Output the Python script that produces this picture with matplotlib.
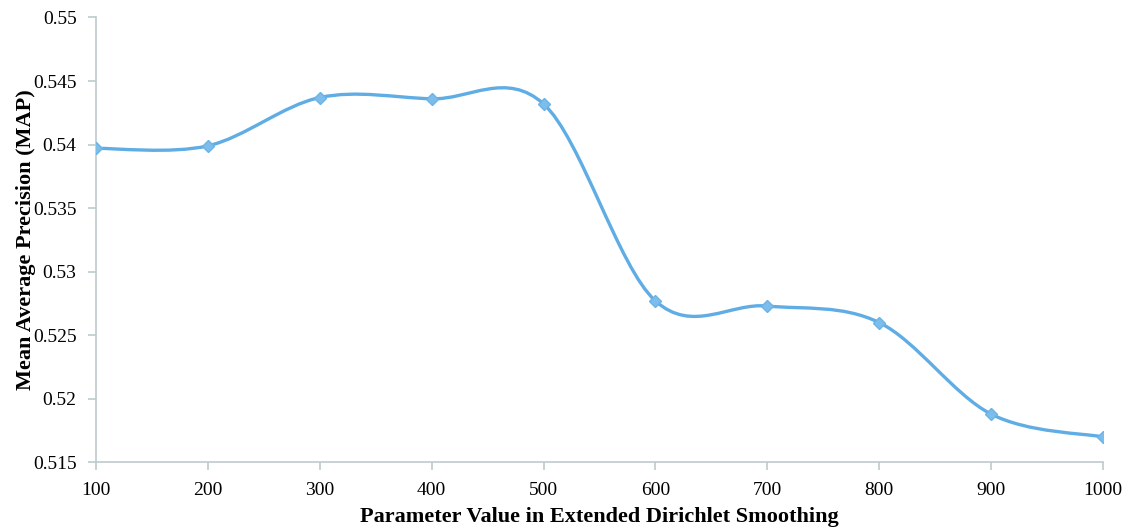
import numpy as np
import matplotlib.pyplot as plt
from matplotlib.path import Path
from matplotlib.patches import PathPatch

params = [100, 200, 300, 400, 500, 600, 700, 800, 900, 1000]
map_values = [0.5397, 0.5399, 0.5437, 0.5436, 0.5432, 0.5277, 0.5273, 0.5260, 0.5188, 0.5170]
y_ticks = [0.515, 0.52, 0.525, 0.53, 0.535, 0.54, 0.545, 0.55]
y_tick_labels = ["0.515", "0.52", "0.525", "0.53", "0.535", "0.54", "0.545", "0.55"]

line_color = "#5fade4"
spine_color = "#bfcacc"


def smooth_path(x, y):
    # Excel-style smoothed line: Catmull-Rom segments as cubic Bezier curves
    pts = np.column_stack([x, y]).astype(float)
    padded = np.vstack([pts[0], pts, pts[-1]])
    verts = [pts[0]]
    codes = [Path.MOVETO]
    for i in range(1, len(padded) - 2):
        p0, p1, p2, p3 = padded[i - 1], padded[i], padded[i + 1], padded[i + 2]
        c1 = p1 + (p2 - p0) / 6.0
        c2 = p2 - (p3 - p1) / 6.0
        verts += [c1, c2, p2]
        codes += [Path.CURVE4] * 3
    return Path(verts, codes)


plt.rcParams['font.family'] = ['Liberation Serif', 'DejaVu Serif']

fig = plt.figure(figsize=(11.3, 5.29), dpi=100)
ax = fig.add_axes([0.085, 0.126, 0.891, 0.841])

ax.add_patch(PathPatch(smooth_path(params, map_values), facecolor="none",
                       edgecolor=line_color, lw=2.4, capstyle="round"))
ax.plot(params, map_values, linestyle="none", marker="D", markersize=6,
        color="#7dbdeb", markeredgecolor="#6cb3e6", zorder=3)

ax.set_xlim(100, 1000)
ax.set_ylim(0.515, 0.55)
ax.set_xticks(params)
ax.set_xticklabels([str(p) for p in params])
ax.set_yticks(y_ticks)
ax.set_yticklabels(y_tick_labels)

for side in ["top", "right"]:
    ax.spines[side].set_visible(False)
for side in ["left", "bottom"]:
    ax.spines[side].set_color(spine_color)
    ax.spines[side].set_linewidth(1.2)

ax.tick_params(axis="both", colors=spine_color, labelcolor="black",
               labelsize=14, length=6, width=1.2, direction="out")
ax.tick_params(axis="x", pad=8)
ax.tick_params(axis="y", pad=8)

ax.set_xlabel("Parameter Value in Extended Dirichlet Smoothing",
              fontsize=16, fontweight="bold", labelpad=6)
ax.set_ylabel("Mean Average Precision (MAP)",
              fontsize=16, fontweight="bold", labelpad=-2)

fig.savefig("out.png", dpi=100)
